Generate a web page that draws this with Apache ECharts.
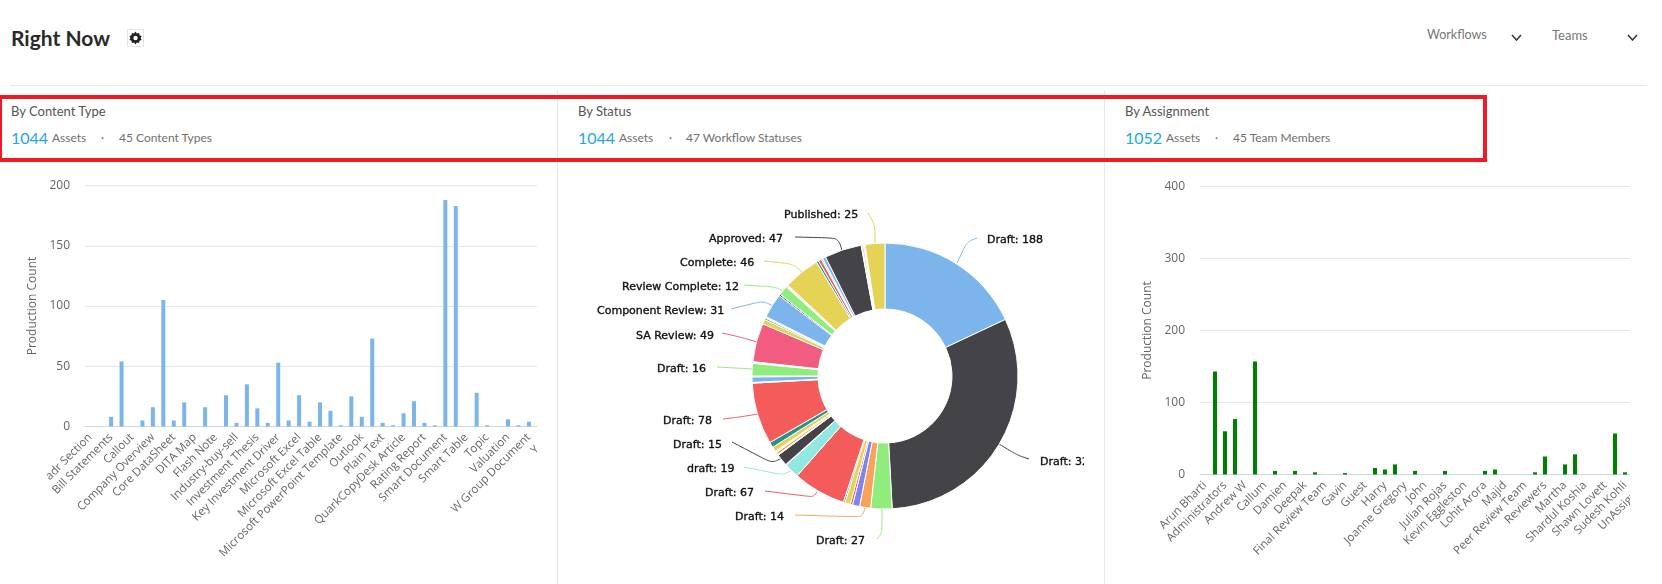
<!DOCTYPE html>
<html>
<head>
<meta charset="utf-8">
<title>Right Now</title>
<script src="https://cdn.jsdelivr.net/npm/echarts@6/dist/echarts.min.js"></script>
<style>
  html, body { margin: 0; padding: 0; background: #fff; width: 1662px; height: 584px; overflow: hidden; }
  body { font-family: Lato, "Open Sans", sans-serif; position: relative; }
  .t { position: absolute; transform: translateY(-50%); white-space: nowrap; color: #707070; font-size: 12px; line-height: 1; }
  .head { color: #555; font-size: 13px; }
  .num { color: #1ea7e6; font-size: 16px; }
  .rule { position: absolute; background: #e8e8e8; }
  .clip { position: absolute; top: 165px; height: 419px; overflow: hidden; }
  .chart { position: absolute; left: 0; top: 0; height: 419px; }
  #box { position: absolute; left: -2px; top: 95px; width: 1481px; height: 59px; border: 4px solid #ed1c24; }
</style>
</head>
<body>
<div class="rule" style="left:10px;top:85px;width:1637px;height:1px"></div>
<div class="rule" style="left:557px;top:90px;width:1px;height:494px"></div>
<div class="rule" style="left:1104px;top:90px;width:1px;height:494px"></div>

<div class="t" style="left:11px;top:37px;font-size:21px;font-weight:700;color:#2a2a2a">Right Now</div>
<svg style="position:absolute;left:127px;top:29px" width="17" height="18" viewBox="0 0 17 18">
  <rect x="0.5" y="0.5" width="16" height="17" fill="#fff" stroke="#e6e6e6"/>
  <path d="M8.5 2.5l1.3 1.9 2.2-.4.6 2.2 2 1-1 1.8 1 1.8-2 1-.6 2.2-2.2-.4-1.3 1.9-1.3-1.9-2.2.4-.6-2.2-2-1 1-1.8-1-1.8 2-1 .6-2.2 2.2.4z" fill="#222"/>
  <circle cx="8.5" cy="9" r="2.2" fill="#fff"/>
</svg>
<div class="t" style="left:1427px;top:35px;font-size:12.5px;color:#777">Workflows</div>
<svg style="position:absolute;left:1511px;top:34px" width="11" height="7"><polyline points="1,1 5.5,6 10,1" fill="none" stroke="#333" stroke-width="1.5"/></svg>
<div class="t" style="left:1552px;top:35px;font-size:13px;color:#777">Teams</div>
<svg style="position:absolute;left:1627px;top:34px" width="11" height="7"><polyline points="1,1 5.5,6 10,1" fill="none" stroke="#333" stroke-width="1.5"/></svg>

<div class="t head" style="left:11px;top:111px">By Content Type</div>
<div class="t num" style="left:11px;top:138px">1044</div>
<div class="t" style="left:52px;top:138px">Assets</div>
<div class="t" style="left:101px;top:138px">·</div>
<div class="t" style="left:119px;top:138px">45 Content Types</div>

<div class="t head" style="left:578px;top:111px">By Status</div>
<div class="t num" style="left:578px;top:138px">1044</div>
<div class="t" style="left:619px;top:138px">Assets</div>
<div class="t" style="left:669px;top:138px">·</div>
<div class="t" style="left:686px;top:138px">47 Workflow Statuses</div>

<div class="t head" style="left:1125px;top:111px">By Assignment</div>
<div class="t num" style="left:1125px;top:138px">1052</div>
<div class="t" style="left:1166px;top:138px">Assets</div>
<div class="t" style="left:1215px;top:138px">·</div>
<div class="t" style="left:1233px;top:138px">45 Team Members</div>

<div id="box"></div>

<div class="clip" style="left:0;width:537px"><div class="chart" id="contentChart" style="width:620px"></div></div>
<div class="clip" style="left:558px;width:526px"><div class="chart" id="statusChart" style="width:620px"></div></div>
<div class="clip" style="left:1105px;width:525px"><div class="chart" id="assignChart" style="width:620px"></div></div>

<script>
// Content types: only every second name is printed on the axis
const contentTypes = [
  'adr Section','', 'Bill Statements','', 'Callout','', 'Company Overview','', 'Core DataSheet','',
  'DITA Map','', 'Flash Note','', 'Industry-buy-sell','', 'Investment Thesis','', 'Key Investment Driver','',
  'Microsoft Excel','', 'Microsoft Excel Table','', 'Microsoft PowerPoint Template','', 'Outlook','', 'Plain Text','',
  'QuarkCopyDesk Article','', 'Rating Report','', 'Smart Document','', 'Smart Table','', 'Topic','',
  'Valuation','', 'W Group Document','', 'Year'
];
const contentCounts = [
  0, 0, 8, 54, 0, 5, 16, 105, 5, 20,
  0, 16, 0, 26, 3, 35, 15, 3, 53, 5,
  26, 4, 20, 13, 1, 25, 8, 73, 3, 1,
  11, 21, 3, 1, 188, 183, 0, 28, 1, 0,
  6, 1, 4, null, null
];

// Team members, printed the same way
const teamMembers = [
  'Arun Bharti','', 'Administrators','', 'Andrew W','', 'Callum','', 'Damien','',
  'Deepak','', 'Final Review Team','', 'Gavin','', 'Guest','', 'Harry','',
  'Joanne Gregory','', 'John','', 'Julian Rojas','', 'Kevin Eggleston','', 'Lohit Arora','',
  'Majid','', 'Peer Review Team','', 'Reviewers','', 'Martha','', 'Shardul Koshia','',
  'Shawn Lovett','', 'Sudesh Kohli','', 'UnAssigned'
];
const teamCounts = [
  0, 143, 60, 77, 0, 157, 0, 5, 0, 5,
  0, 3, 0, 0, 2, 0, 0, 9, 7, 14,
  0, 5, 0, 0, 5, 0, 0, 0, 5, 7,
  0, 0, 0, 3, 25, 0, 14, 28, 0, 0,
  0, 57, 3, null, null
];

// Workflow statuses in drawing order; unnamed ones are slivers without a label
const statusNames = [
  'Draft','Draft','Draft','Draft','','','','','Draft','draft',
  '','Draft','','','','','','','Draft','',
  '','','Draft','','','SA Review','','','','',
  'Component Review','','Review Complete','','','','Complete','','','',
  '','Approved','','','','','Published'
];
const statusCounts = [
  188, 325, 27, 14, 9, 3, 7, 2, 67, 19,
  1, 15, 1, 3, 1, 1, 6, 7, 78, 1,
  7, 1, 16, 1, 1, 49, 6, 2, 1, 1,
  31, 2, 12, 1, 1, 1, 46, 3, 4, 2,
  4, 47, 1, 2, 1, 1, 25
];
const sliceColors = ['#7cb5ec','#434348','#90ed7d','#f7a35c','#8085e9','#f15c80','#e4d354','#2b908f','#f45b5b','#91e8e1'];

const axisFont = 'Open Sans';

function barOption(names, values, color, gridLeft, gridWidth, gridTop, gridHeight, yMax, yStep) {
  return {
    animation: false,
    grid: { left: gridLeft, width: gridWidth, top: gridTop, height: gridHeight, containLabel: false },
    xAxis: {
      type: 'category', data: names,
      axisTick: { show: false },
      axisLine: { lineStyle: { color: '#ccd6eb' } },
      axisLabel: { interval: 1, rotate: 45, margin: 9, color: '#666', fontFamily: axisFont, fontSize: 11.5 }
    },
    yAxis: {
      type: 'value', min: 0, max: yMax, interval: yStep,
      name: 'Production Count', nameLocation: 'middle', nameGap: 46,
      nameTextStyle: { color: '#666', fontFamily: axisFont, fontSize: 12 },
      axisLine: { show: false }, axisTick: { show: false },
      axisLabel: { color: '#666', fontFamily: axisFont, fontSize: 12, margin: 15 },
      splitLine: { lineStyle: { color: '#e6e6e6' } }
    },
    series: [{ type: 'bar', data: values, barWidth: 4, itemStyle: { color: color }, silent: true }]
  };
}

echarts.init(document.getElementById('contentChart'), null, { renderer: 'canvas' })
  .setOption(barOption(contentTypes, contentCounts, '#7cb5ec', 85, 470, 20.5, 241, 200, 50));
echarts.init(document.getElementById('assignChart'), null, { renderer: 'canvas' })
  .setOption(barOption(teamMembers, teamCounts, '#008000', 95, 450, 21.5, 288, 400, 100));

// Where each named status puts its label and how its connector runs to the slice
const labelSpots = {
  0:  { x: 429, y: 75,  line: [[419, 73], [409, 77], [399, 98]] },
  1:  { x: 482, y: 297, line: [[471, 294], [459, 290], [441, 279]] },
  2:  { x: 258, y: 376, line: [[319, 374], [324, 368], [324, 343]] },
  3:  { x: 177, y: 352, line: [[237, 350], [304, 352], [307, 343]] },
  8:  { x: 147, y: 328, line: [[207, 326], [255, 332], [259, 327]] },
  9:  { x: 129, y: 304, line: [[186, 302], [225, 310], [234, 305]] },
  11: { x: 115, y: 280, line: [[174, 277], [214, 298], [224, 293]] },
  18: { x: 105, y: 256, line: [[165, 254], [182, 252], [200, 249]] },
  22: { x: 99,  y: 204, line: [[159, 202], [177, 203], [195, 204]] },
  25: { x: 78,  y: 171, line: [[164, 168], [182, 172], [199, 177]] },
  30: { x: 39,  y: 146, line: [[173, 144], [205, 136], [215, 141]] },
  32: { x: 64,  y: 122, line: [[186, 120], [217, 122], [225, 126]] },
  36: { x: 122, y: 98,  line: [[206, 96], [235, 99], [244, 107]] },
  41: { x: 151, y: 74,  line: [[237, 72], [280, 73], [284, 85]] },
  46: { x: 226, y: 50,  line: [[310, 48], [317, 60], [317, 78]] }
};

const statusSlices = statusCounts.map((value, i) => {
  const named = statusNames[i] !== '';
  return {
    name: statusNames[i], value: value,
    itemStyle: { color: sliceColors[i % sliceColors.length] },
    label: { show: named },
    labelLine: { show: named }
  };
});

echarts.init(document.getElementById('statusChart'), null, { renderer: 'canvas' }).setOption({
  animation: false,
  series: [{
    type: 'pie', silent: true,
    center: [327, 211], radius: [67, 133], startAngle: 90, clockwise: true,
    avoidLabelOverlap: false,
    itemStyle: { borderColor: '#fff', borderWidth: 1 },
    label: {
      formatter: '{b}: {c}', color: '#111', fontFamily: 'DejaVu Sans', fontSize: 11,
      textBorderColor: '#111', textBorderWidth: 0.35
    },
    labelLine: { show: true, smooth: 0.3, lineStyle: { width: 1 } },
    labelLayout: function (p) {
      const spot = labelSpots[p.dataIndex];
      if (!spot) return {};
      return { x: spot.x, y: spot.y, align: 'left', verticalAlign: 'middle', labelLinePoints: spot.line };
    },
    data: statusSlices
  }]
});
</script>
</body>
</html>
